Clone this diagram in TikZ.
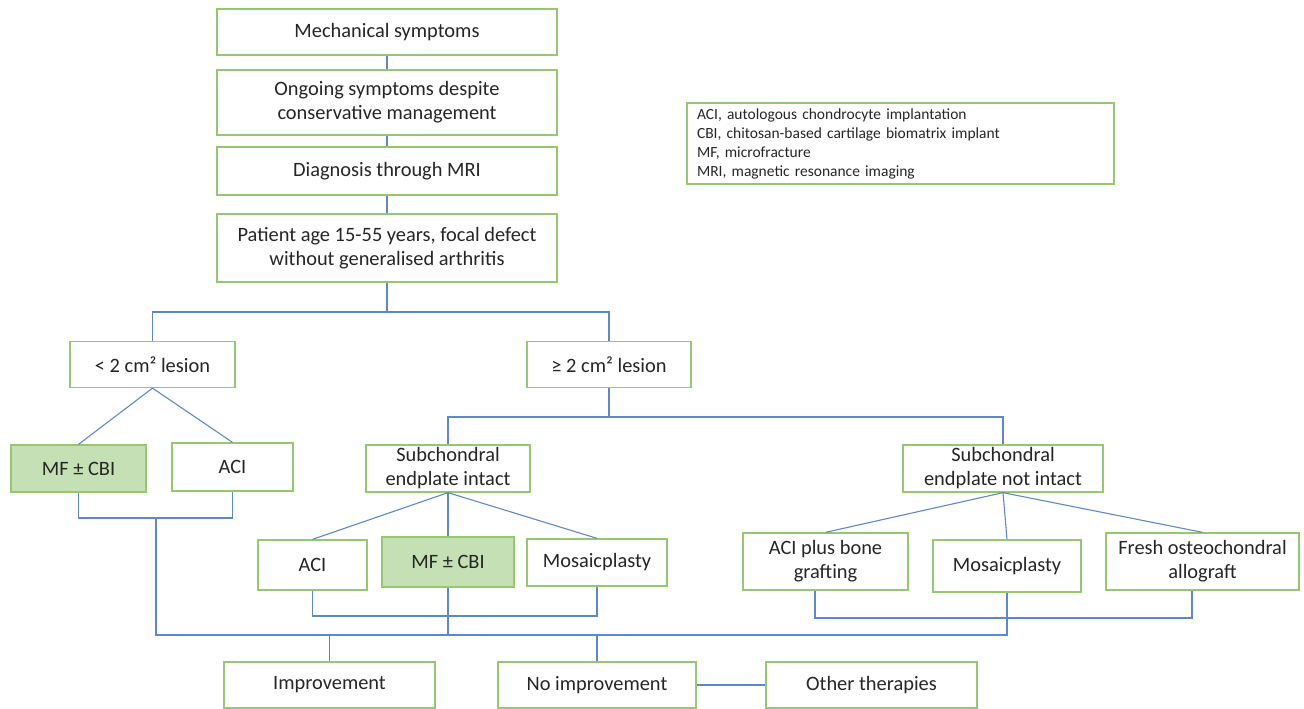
\documentclass[tikz,border=0pt]{standalone}
\usepackage{fontspec}
\setmainfont{Carlito}
\definecolor{boxline}{RGB}{150,200,110}
\definecolor{boxfill}{RGB}{197,224,180}
\definecolor{conn}{RGB}{95,135,205}
\definecolor{txt}{RGB}{38,38,38}
\begin{document}
\begin{tikzpicture}[x=1pt,y=-1pt,
  bx/.style={draw=boxline,line width=1.3pt,fill=white,rectangle,inner sep=0pt,align=center,text=txt,font=\fontsize{20.4}{24}\selectfont},
  gbx/.style={bx,fill=boxfill},
  cn/.style={draw=conn,line width=1.1pt}]
\useasboundingbox (0,0) rectangle (1304,709);
% main column
\node[bx,minimum width=340,minimum height=46] (m1) at (387,32) {Mechanical symptoms};
\node[bx,minimum width=340,minimum height=65] (m2) at (387,102.5) {Ongoing symptoms despite\\conservative management};
\node[bx,minimum width=340,minimum height=48] (m3) at (387,171) {Diagnosis through MRI};
\node[bx,minimum width=340,minimum height=68] (m4) at (387,248) {Patient age 15-55 years, focal defect\\without generalised arthritis};
% legend
\node[draw=boxline,line width=1.3pt,rectangle,minimum width=427,minimum height=81,text width=407,inner sep=0pt,align=left,text=txt,font=\fontsize{15.5}{19}\selectfont] (leg) at (900.5,143.5) {ACI, autologous chondrocyte implantation\\CBI, chitosan-based cartilage biomatrix implant\\MF, microfracture\\MRI, magnetic resonance imaging};
% lesion size
\node[bx,minimum width=165,minimum height=46] (small) at (152.5,364.5) {< 2 cm² lesion};
\node[bx,minimum width=164,minimum height=46] (large) at (609,364.5) {≥ 2 cm² lesion};
% small lesion branch
\node[gbx,minimum width=135,minimum height=47] (mfL) at (78.5,468.5) {MF ± CBI};
\node[bx,minimum width=121,minimum height=48] (aciL) at (232.5,467) {ACI};
% large lesion branch
\node[bx,minimum width=164,minimum height=47] (intact) at (448,468.5) {Subchondral\\endplate intact};
\node[bx,minimum width=200,minimum height=47] (notint) at (1003,468.5) {Subchondral\\endplate not intact};
\node[bx,minimum width=109,minimum height=50] (aci2) at (312.5,565) {ACI};
\node[gbx,minimum width=132,minimum height=50] (mf2) at (448,562) {MF ± CBI};
\node[bx,minimum width=140,minimum height=47] (mos2) at (597,562.5) {Mosaicplasty};
\node[bx,minimum width=165,minimum height=57] (aciB) at (825.5,561.5) {ACI plus bone\\grafting};
\node[bx,minimum width=148,minimum height=52] (mos3) at (1007,566) {Mosaicplasty};
\node[bx,minimum width=193,minimum height=57] (fresh) at (1202.5,561.5) {Fresh osteochondral\\allograft};
% outcomes
\node[bx,minimum width=211,minimum height=46] (imp) at (329.5,685) {Improvement};
\node[bx,minimum width=198,minimum height=46] (noimp) at (597,685) {No improvement};
\node[bx,minimum width=211,minimum height=46] (other) at (871.5,685) {Other therapies};
% coordinates
\coordinate (s1) at (387,312);
\coordinate (s2) at (609,417);
\coordinate (jL) at (156,518);
\coordinate (bus) at (1007,635);
\coordinate (busL) at (156,635);
\coordinate (b2) at (448,616);
\coordinate (bL) at (815,618);
\coordinate (bR) at (1192,618);
% connectors
\draw[cn] (m1.south) -- (m2.north);
\draw[cn] (m2.south) -- (m3.north);
\draw[cn] (m3.south) -- (m4.north);
\draw[cn] (m4.south) -- (s1);
\draw[cn] (s1) -| (small.north);
\draw[cn] (s1) -| (large.north);
\draw[cn] (small.south) -- (mfL.north);
\draw[cn] (small.south) -- (aciL.north);
\draw[cn] (mfL.south) |- (jL) -| (aciL.south);
\draw[cn] (large.south) -- (s2);
\draw[cn] (s2) -| (intact.north);
\draw[cn] (s2) -| (notint.north);
\draw[cn] (intact.south) -- (aci2.north);
\draw[cn] (intact.south) -- (mf2.north);
\draw[cn] (intact.south) -- (mos2.north);
\draw[cn] (aci2.south) |- (b2) -| (mos2.south);
\draw[cn] (mf2.south) -- (mf2.south |- bus);
\draw[cn] (notint.south) -- (aciB.north);
\draw[cn] (notint.south) -- (mos3.north);
\draw[cn] (notint.south) -- (fresh.north);
\draw[cn] (aciB.south -| bL) -- (bL) -- (bR) -- (fresh.south -| bR);
\draw[cn] (mos3.south) -- (bus) -- (busL) -- (jL);
\draw[cn] (imp.north) -- (imp.north |- bus);
\draw[cn] (noimp.north) -- (noimp.north |- bus);
\draw[cn] (noimp.east) -- (other.west);
\end{tikzpicture}
\end{document}
